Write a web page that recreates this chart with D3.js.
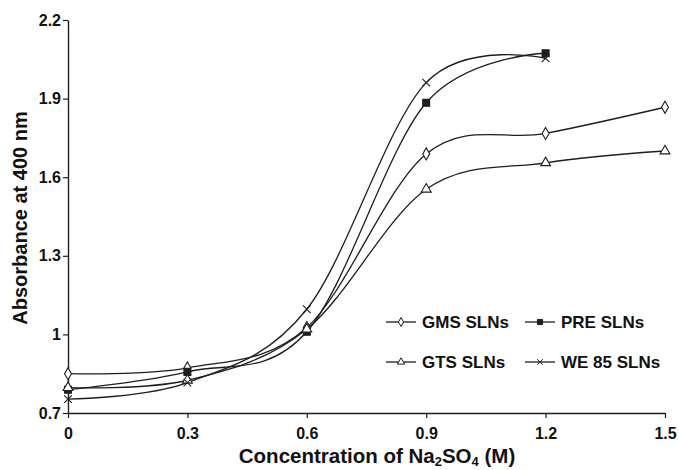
<!DOCTYPE html>
<html><head><meta charset="utf-8">
<script src="https://cdn.jsdelivr.net/npm/d3@7"></script>
<style>
html,body{margin:0;padding:0;background:#fff;}
text{font-family:"Liberation Sans",Arial,sans-serif;font-weight:bold;fill:#111;}
</style></head>
<body>
<svg id="chart" width="679" height="470"></svg>
<script>
const xValues = [0, 0.3, 0.6, 0.9, 1.2, 1.5];
const gmsValues = [0.85, 0.872, 1.026, 1.689, 1.767, 1.867];
const preValues = [0.789, 0.857, 1.010, 1.884, 2.073];
const gtsValues = [0.797, 0.825, 1.020, 1.554, 1.655, 1.700];
const we85Values = [0.753, 0.816, 1.096, 1.961, 2.054];
const seriesNames = ["GMS SLNs", "PRE SLNs", "GTS SLNs", "WE 85 SLNs"];
const xTickLabels = ["0", "0.3", "0.6", "0.9", "1.2", "1.5"];
const yTickValues = [0.7, 1.0, 1.3, 1.6, 1.9, 2.2];
const yTickLabels = ["0.7", "1", "1.3", "1.6", "1.9", "2.2"];

const svg = d3.select("#chart");
const x = d3.scaleLinear().domain([0, 1.5]).range([68, 665]);
const y = d3.scaleLinear().domain([0.7, 2.2]).range([413, 20]);
const ink = "#1e1e1e";

// axes
const gx = svg.append("g").attr("transform", `translate(0,${y(0.7)})`)
  .call(d3.axisBottom(x).tickValues(xValues).tickFormat((d,i)=>xTickLabels[i]).tickSize(5).tickSizeOuter(0).tickPadding(10));
const gy = svg.append("g").attr("transform", `translate(${x(0)},0)`)
  .call(d3.axisLeft(y).tickValues(yTickValues).tickFormat((d,i)=>yTickLabels[i]).tickSize(5).tickSizeOuter(0).tickPadding(2));
[gx, gy].forEach(g => {
  g.select(".domain").attr("stroke", ink).attr("stroke-width", 1.4);
  g.selectAll(".tick line").attr("stroke", ink).attr("stroke-width", 1.2);
  g.selectAll(".tick text").style("font-size", "16px").style("font-family", '"Liberation Sans",Arial,sans-serif').style("font-weight", "bold").attr("fill", "#111");
});

// series
const series = [
  {name: seriesNames[0], vals: gmsValues, sym: d3.symbolDiamond, size: 42, fill: "#fff"},
  {name: seriesNames[1], vals: preValues, sym: d3.symbolSquare, size: 48, fill: ink},
  {name: seriesNames[2], vals: gtsValues, sym: d3.symbolTriangle, size: 42, fill: "#fff"},
  {name: seriesNames[3], vals: we85Values, sym: d3.symbolX, size: 40, fill: "none"}
];
const line = d3.line().x(d => x(d[0])).y(d => y(d[1])).curve(d3.curveCardinal.tension(0));

series.forEach(s => {
  const pts = s.vals.map((v, i) => [xValues[i], v]);
  svg.append("path").attr("d", line(pts)).attr("fill", "none").attr("stroke", ink).attr("stroke-width", 1.3);
});
series.forEach(s => {
  const pts = s.vals.map((v, i) => [xValues[i], v]);
  svg.append("g").selectAll("path").data(pts).join("path")
    .attr("transform", d => `translate(${x(d[0])},${y(d[1])})`)
    .attr("d", d3.symbol().type(s.sym).size(s.size))
    .attr("fill", s.fill).attr("stroke", ink).attr("stroke-width", 1.1);
});

// legend
const legPos = [[386, 322], [525, 322], [386, 362], [525, 362]];
series.forEach((s, i) => {
  const [lx, ly] = legPos[i];
  const g = svg.append("g").attr("transform", `translate(${lx},${ly})`);
  g.append("line").attr("x1", 0).attr("x2", 30).attr("y1", 0).attr("y2", 0).attr("stroke", ink).attr("stroke-width", 1.3);
  g.append("path").attr("transform", "translate(15,0)").attr("d", d3.symbol().type(s.sym).size(s.size * 0.55))
    .attr("fill", s.fill).attr("stroke", ink).attr("stroke-width", 1);
  g.append("text").attr("x", 36).attr("y", 0).attr("dy", "0.36em").style("font-size", "17px").text(s.name);
});

// axis titles
const xt = svg.append("text").attr("x", 377).attr("y", 463).attr("text-anchor", "middle").style("font-size", "20.5px");
xt.append("tspan").text("Concentration of Na");
xt.append("tspan").attr("dy", 3).style("font-size", "13px").text("2");
xt.append("tspan").attr("dy", -3).text("SO");
xt.append("tspan").attr("dy", 3).style("font-size", "13px").text("4");
xt.append("tspan").attr("dy", -3).text(" (M)");

svg.append("text").attr("transform", "translate(27,218) rotate(-90)").attr("text-anchor", "middle")
  .style("font-size", "20px").text("Absorbance at 400 nm");
</script>
</body></html>
